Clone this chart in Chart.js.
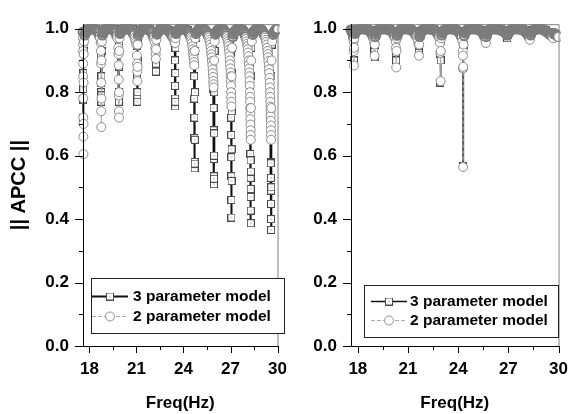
<!DOCTYPE html>
<html><head><meta charset="utf-8">
<script src="https://cdn.jsdelivr.net/npm/chart.js@4/dist/chart.umd.min.js"></script>
<style>
html,body{margin:0;padding:0;background:#fff;}
#wrap{position:relative;width:581px;height:414px;overflow:hidden;}
#c1{position:absolute;left:0;top:0;width:300px;height:414px;}
#c2{position:absolute;left:300px;top:0;width:281px;height:414px;}
</style></head><body>
<div id="wrap"><canvas id="c1" width="300" height="414"></canvas><canvas id="c2" width="281" height="414"></canvas></div>
<script>
// ---------------- data ----------------
const seriesLabels = ['3 parameter model', '2 parameter model'];
const xTitle = 'Freq(Hz)';
const yTitle = '|| APCC ||';
const xMajorTicks = [18, 21, 24, 27, 30];
const xMinorTicks = [19.5, 22.5, 25.5, 28.5];
const yMajorTicks = [0, 0.2, 0.4, 0.6, 0.8, 1.0];
const yMinorTicks = [0.1, 0.3, 0.5, 0.7, 0.9];

// left panel, 3 parameter model  [Freq, APCC]
const left3 = [[17.59,0.99],[17.595,0.93],[17.6,0.86],[17.603,0.81],[17.606,0.775],[17.61,0.72],[17.615,0.78],[17.62,0.86],[17.63,0.93],[17.66,0.97],[17.72,0.99],[17.85,0.998],[18.0,1.0],[18.2,1.0],[18.4,0.999],[18.55,0.995],[18.65,0.985],[18.71,0.97],
[18.73,0.91],[18.745,0.83],[18.75,0.80],[18.755,0.78],[18.76,0.77],[18.765,0.79],[18.77,0.85],[18.78,0.93],[18.80,0.975],[18.86,0.99],[19.0,0.998],[19.2,1.0],[19.4,1.0],[19.6,0.998],[19.75,0.99],[19.83,0.97],
[19.85,0.93],[19.86,0.8],[19.87,0.78],[19.875,0.77],[19.88,0.79],[19.89,0.88],[19.9,0.95],[19.93,0.98],[20.0,0.993],[20.2,0.999],[20.4,1.0],[20.6,1.0],[20.8,0.998],[20.92,0.99],[21.0,0.975],
[21.03,0.945],[21.045,0.85],[21.05,0.79],[21.055,0.78],[21.06,0.77],[21.065,0.80],[21.07,0.9],[21.09,0.96],[21.13,0.985],[21.25,0.996],[21.45,1.0],[21.65,1.0],[21.85,0.998],[22.0,0.993],[22.12,0.98],[22.19,0.96],
[22.215,0.92],[22.225,0.90],[22.235,0.88],[22.24,0.865],[22.245,0.89],[22.255,0.95],[22.28,0.98],[22.35,0.993],[22.5,0.999],[22.7,1.0],[22.9,1.0],[23.05,0.997],[23.2,0.99],[23.3,0.975],[23.38,0.96],
[23.44,0.95],[23.455,0.90],[23.46,0.82],[23.465,0.78],[23.47,0.755],[23.475,0.77],[23.48,0.86],[23.49,0.94],[23.52,0.975],[23.6,0.99],[23.75,0.998],[23.95,1.0],[24.15,1.0],[24.3,0.995],[24.42,0.985],[24.52,0.97],[24.6,0.955],
[24.67,0.92],[24.68,0.85],[24.69,0.78],[24.695,0.72],[24.7,0.655],[24.705,0.58],[24.71,0.56],[24.715,0.575],[24.72,0.65],[24.73,0.8],[24.75,0.93],[24.78,0.97],[24.85,0.99],[25.0,0.998],[25.2,1.0],[25.4,0.997],[25.55,0.988],[25.67,0.975],[25.78,0.96],[25.86,0.945],
[25.9,0.85],[25.91,0.81],[25.92,0.75],[25.925,0.68],[25.93,0.59],[25.935,0.535],[25.94,0.51],[25.945,0.527],[25.95,0.6],[25.955,0.67],[25.965,0.8],[25.98,0.93],[26.02,0.975],[26.1,0.99],[26.25,0.998],[26.45,1.0],[26.6,0.996],[26.72,0.985],[26.84,0.97],[26.95,0.955],
[27.02,0.925],[27.03,0.855],[27.04,0.787],[27.045,0.72],[27.05,0.665],[27.055,0.595],[27.058,0.535],[27.06,0.46],[27.062,0.405],[27.065,0.52],[27.07,0.62],[27.075,0.74],[27.085,0.86],[27.1,0.94],[27.14,0.975],[27.22,0.99],[27.4,0.998],[27.6,1.0],[27.78,0.995],[27.92,0.985],[28.05,0.97],[28.17,0.955],
[28.24,0.89],[28.25,0.82],[28.26,0.74],[28.265,0.67],[28.27,0.605],[28.275,0.585],[28.28,0.53],[28.283,0.495],[28.286,0.47],[28.29,0.427],[28.293,0.387],[28.297,0.55],[28.3,0.7],[28.31,0.85],[28.33,0.94],[28.37,0.975],[28.45,0.99],[28.6,0.998],[28.8,1.0],[28.98,0.995],[29.15,0.985],[29.3,0.97],[29.44,0.955],
[29.53,0.86],[29.54,0.8],[29.55,0.72],[29.56,0.66],[29.565,0.58],[29.57,0.576],[29.575,0.53],[29.58,0.49],[29.583,0.448],[29.586,0.40],[29.59,0.366],[29.595,0.5],[29.6,0.68],[29.61,0.85],[29.63,0.95],[29.7,0.98],[29.8,0.99],[29.9,0.995],[30.0,0.997]];

// left panel, 2 parameter model  [Freq, APCC]
const left2 = [[17.59,0.99],[17.592,0.97],[17.595,0.95],[17.597,0.93],[17.6,0.89],[17.603,0.85],[17.606,0.78],[17.61,0.72],[17.613,0.66],[17.616,0.605],[17.62,0.7],[17.625,0.83],[17.63,0.92],[17.65,0.96],[17.7,0.98],[17.75,0.987],[17.8,0.99],[17.85,0.993],[17.9,0.996],[17.95,0.998],[18.0,0.999],[18.05,1.0],[18.1,1.0],[18.15,1.0],[18.2,1.0],[18.25,1.0],[18.3,0.999],[18.35,0.998],[18.4,0.997],[18.45,0.995],[18.5,0.993],[18.55,0.99],[18.6,0.985],[18.64,0.978],[18.68,0.97],
[18.72,0.955],[18.735,0.93],[18.745,0.89],[18.75,0.83],[18.755,0.74],[18.76,0.69],[18.765,0.78],[18.775,0.9],[18.79,0.96],[18.83,0.98],[18.87,0.987],[18.9,0.99],[18.95,0.994],[19.0,0.996],[19.05,0.998],[19.1,0.999],[19.15,1.0],[19.2,1.0],[19.25,1.0],[19.3,1.0],[19.35,1.0],[19.4,1.0],[19.45,0.999],[19.5,0.998],[19.55,0.996],[19.6,0.994],[19.65,0.99],[19.7,0.985],[19.74,0.978],[19.78,0.97],
[19.84,0.94],[19.855,0.92],[19.865,0.885],[19.87,0.84],[19.875,0.79],[19.88,0.74],[19.885,0.72],[19.89,0.8],[19.9,0.93],[19.92,0.97],[19.96,0.985],[20.0,0.99],[20.05,0.993],[20.1,0.996],[20.15,0.998],[20.2,0.999],[20.25,1.0],[20.3,1.0],[20.35,1.0],[20.4,1.0],[20.45,1.0],[20.5,1.0],[20.55,0.999],[20.6,0.998],[20.65,0.996],[20.7,0.993],[20.75,0.99],[20.8,0.985],[20.85,0.98],[20.89,0.972],[20.93,0.965],[20.96,0.957],[20.99,0.95],
[21.03,0.915],[21.045,0.89],[21.055,0.865],[21.06,0.835],[21.07,0.88],[21.085,0.95],[21.12,0.98],[21.16,0.986],[21.2,0.99],[21.25,0.993],[21.3,0.996],[21.35,0.998],[21.4,0.999],[21.45,1.0],[21.5,1.0],[21.55,1.0],[21.6,1.0],[21.65,1.0],[21.7,1.0],[21.75,0.999],[21.8,0.998],[21.85,0.996],[21.9,0.994],[21.95,0.99],[22.0,0.987],[22.04,0.981],[22.08,0.975],[22.12,0.967],[22.15,0.96],
[22.2,0.94],[22.225,0.92],[22.238,0.905],[22.25,0.935],[22.27,0.965],[22.31,0.983],[22.35,0.988],[22.4,0.992],[22.45,0.995],[22.5,0.997],[22.55,0.999],[22.6,1.0],[22.65,1.0],[22.7,1.0],[22.75,1.0],[22.8,1.0],[22.85,1.0],[22.9,0.999],[22.95,0.998],[23.0,0.996],[23.05,0.994],[23.1,0.991],[23.15,0.988],[23.2,0.984],[23.25,0.98],[23.3,0.975],[23.34,0.97],[23.38,0.965],
[23.43,0.96],[23.465,0.955],[23.49,0.97],[23.53,0.985],[23.56,0.989],[23.6,0.993],[23.65,0.996],[23.7,0.998],[23.75,0.999],[23.8,1.0],[23.85,1.0],[23.9,1.0],[23.95,1.0],[24.0,1.0],[24.05,0.999],[24.1,0.998],[24.15,0.997],[24.2,0.995],[24.25,0.993],[24.3,0.99],[24.35,0.986],[24.4,0.982],[24.44,0.976],[24.48,0.97],[24.51,0.963],[24.54,0.955],[24.57,0.945],[24.59,0.935],[24.61,0.925],[24.63,0.915],[24.65,0.905],[24.67,0.895],[24.69,0.885],
[24.72,0.93],[24.75,0.97],[24.8,0.985],[24.85,0.99],[24.9,0.993],[24.95,0.996],[25.0,0.998],[25.05,0.999],[25.1,1.0],[25.15,1.0],[25.2,1.0],[25.25,1.0],[25.3,0.999],[25.35,0.997],[25.4,0.995],[25.45,0.992],[25.5,0.988],[25.54,0.983],[25.58,0.978],[25.62,0.972],[25.65,0.965],[25.68,0.958],[25.71,0.95],[25.74,0.94],[25.76,0.93],[25.78,0.92],[25.8,0.91],[25.82,0.898],[25.84,0.885],[25.86,0.872],[25.87,0.86],[25.89,0.848],[25.9,0.835],[25.915,0.825],[25.925,0.815],
[25.96,0.9],[25.99,0.96],[26.04,0.983],[26.08,0.988],[26.12,0.992],[26.17,0.995],[26.22,0.997],[26.27,0.999],[26.32,1.0],[26.37,1.0],[26.42,1.0],[26.47,0.999],[26.52,0.998],[26.57,0.996],[26.62,0.993],[26.66,0.989],[26.7,0.985],[26.74,0.979],[26.77,0.973],[26.8,0.967],[26.83,0.96],[26.86,0.953],[26.88,0.945],[26.9,0.935],[26.92,0.925],[26.94,0.913],[26.96,0.9],[26.975,0.888],[26.99,0.875],[27.0,0.862],[27.01,0.85],[27.02,0.835],[27.03,0.82],[27.04,0.8],[27.045,0.785],[27.05,0.77],[27.055,0.755],
[27.075,0.85],[27.1,0.94],[27.15,0.975],[27.18,0.983],[27.22,0.988],[27.27,0.992],[27.32,0.995],[27.37,0.997],[27.42,0.999],[27.47,1.0],[27.52,1.0],[27.57,1.0],[27.62,1.0],[27.67,0.999],[27.72,0.998],[27.77,0.996],[27.82,0.993],[27.86,0.989],[27.9,0.985],[27.94,0.98],[27.97,0.975],[28.0,0.968],[28.03,0.96],[28.06,0.953],[28.08,0.945],[28.1,0.935],[28.12,0.925],[28.14,0.913],[28.16,0.9],[28.175,0.888],[28.19,0.875],[28.2,0.862],[28.21,0.85],[28.22,0.835],[28.23,0.82],[28.24,0.8],[28.245,0.785],[28.255,0.77],[28.26,0.75],[28.265,0.732],[28.27,0.715],[28.275,0.698],[28.28,0.68],[28.284,0.665],[28.288,0.65],
[28.3,0.75],[28.32,0.9],[28.36,0.96],[28.42,0.982],[28.46,0.988],[28.5,0.992],[28.55,0.995],[28.6,0.997],[28.65,0.999],[28.7,1.0],[28.75,1.0],[28.8,1.0],[28.85,1.0],[28.9,0.999],[28.95,0.997],[29.0,0.995],[29.05,0.992],[29.1,0.988],[29.14,0.983],[29.18,0.978],[29.22,0.972],[29.25,0.965],[29.28,0.958],[29.31,0.95],[29.34,0.94],[29.36,0.93],[29.38,0.92],[29.4,0.91],[29.42,0.898],[29.44,0.885],[29.455,0.872],[29.47,0.86],[29.485,0.845],[29.5,0.83],[29.51,0.815],[29.52,0.8],[29.53,0.785],[29.54,0.77],[29.548,0.755],[29.555,0.74],[29.562,0.725],[29.57,0.71],[29.575,0.695],[29.58,0.68],[29.584,0.665],[29.588,0.65],
[29.6,0.75],[29.62,0.9],[29.66,0.96],[29.72,0.982],[29.76,0.988],[29.8,0.992],[29.85,0.995],[29.9,0.997],[29.95,0.998],[30.0,0.999]];

// right panel, 3 parameter model  [Freq, APCC]
const right3 = [[17.59,0.993],[17.65,0.99],[17.7,0.98],[17.74,0.96],[17.755,0.94],[17.765,0.90],[17.775,0.95],[17.8,0.98],[17.9,0.993],[18.1,0.998],[18.3,1.0],[18.5,0.999],[18.7,0.996],[18.85,0.99],[18.94,0.975],
[18.98,0.95],[18.995,0.93],[19.005,0.91],[19.015,0.95],[19.04,0.98],[19.12,0.99],[19.3,0.997],[19.5,1.0],[19.7,1.0],[19.9,0.998],[20.05,0.993],[20.17,0.985],[20.24,0.97],
[20.275,0.924],[20.29,0.90],[20.3,0.94],[20.33,0.975],[20.42,0.99],[20.6,0.997],[20.8,1.0],[21.0,1.0],[21.2,0.999],[21.38,0.994],[21.52,0.985],[21.6,0.97],
[21.64,0.924],[21.66,0.95],[21.7,0.978],[21.78,0.99],[21.95,0.997],[22.15,1.0],[22.35,1.0],[22.55,0.998],[22.72,0.993],[22.84,0.983],[22.9,0.965],
[22.93,0.92],[22.94,0.83],[22.95,0.9],[22.97,0.96],[23.02,0.985],[23.15,0.994],[23.35,0.999],[23.55,1.0],[23.75,0.999],[23.95,0.995],[24.1,0.987],[24.2,0.975],[24.26,0.95],
[24.28,0.875],[24.29,0.567],[24.3,0.875],[24.32,0.95],[24.37,0.98],[24.48,0.992],[24.65,0.998],[24.85,1.0],[25.05,1.0],[25.25,0.999],[25.42,0.995],[25.55,0.988],[25.62,0.98],[25.66,0.985],[25.75,0.993],[25.95,0.998],[26.15,1.0],[26.35,1.0],[26.55,0.999],[26.72,0.995],[26.85,0.988],
[26.93,0.97],[26.96,0.98],[27.05,0.992],[27.25,0.998],[27.45,1.0],[27.65,1.0],[27.85,0.999],[28.02,0.995],[28.15,0.99],[28.25,0.985],[28.32,0.99],[28.45,0.995],[28.65,0.999],[28.85,1.0],[29.05,0.999],[29.25,0.996],[29.45,0.99],[29.6,0.985],[29.7,0.98],[29.8,0.982],[29.9,0.978],[30.0,0.975]];

// right panel, 2 parameter model  [Freq, APCC]
const right2 = [[17.59,0.997],[17.63,0.995],[17.67,0.99],[17.7,0.985],[17.73,0.975],[17.745,0.96],[17.755,0.93],[17.765,0.884],[17.775,0.94],[17.79,0.97],[17.83,0.985],[17.86,0.99],[17.9,0.993],[17.95,0.995],[18.0,0.997],[18.05,0.999],[18.1,1.0],[18.15,1.0],[18.2,1.0],[18.25,1.0],[18.3,1.0],[18.35,1.0],[18.4,1.0],[18.45,1.0],[18.5,0.999],[18.55,0.998],[18.6,0.997],[18.65,0.996],[18.7,0.994],[18.75,0.991],[18.8,0.988],[18.84,0.984],[18.88,0.98],[18.91,0.975],[18.94,0.97],
[18.98,0.955],[19.0,0.915],[19.015,0.95],[19.04,0.975],[19.06,0.982],[19.09,0.988],[19.13,0.991],[19.17,0.994],[19.22,0.996],[19.27,0.998],[19.32,0.999],[19.37,1.0],[19.42,1.0],[19.47,1.0],[19.52,1.0],[19.57,1.0],[19.62,1.0],[19.67,1.0],[19.72,1.0],[19.77,0.999],[19.82,0.998],[19.87,0.997],[19.92,0.996],[19.97,0.994],[20.02,0.992],[20.07,0.989],[20.12,0.986],[20.16,0.982],[20.2,0.976],[20.23,0.97],
[20.265,0.96],[20.28,0.94],[20.295,0.878],[20.31,0.93],[20.33,0.97],[20.35,0.979],[20.38,0.985],[20.42,0.99],[20.46,0.993],[20.51,0.995],[20.56,0.997],[20.61,0.999],[20.66,1.0],[20.71,1.0],[20.76,1.0],[20.81,1.0],[20.86,1.0],[20.91,1.0],[20.96,1.0],[21.01,1.0],[21.06,0.999],[21.11,0.998],[21.16,0.997],[21.21,0.996],[21.26,0.994],[21.31,0.992],[21.36,0.99],[21.41,0.987],[21.45,0.983],[21.49,0.978],[21.53,0.973],[21.57,0.967],
[21.6,0.96],[21.635,0.95],[21.655,0.915],[21.67,0.95],[21.7,0.975],[21.72,0.981],[21.75,0.987],[21.79,0.991],[21.83,0.994],[21.88,0.996],[21.93,0.998],[21.98,0.999],[22.03,1.0],[22.08,1.0],[22.13,1.0],[22.18,1.0],[22.23,1.0],[22.28,1.0],[22.33,1.0],[22.38,1.0],[22.43,0.999],[22.48,0.998],[22.53,0.997],[22.58,0.996],[22.63,0.994],[22.68,0.992],[22.73,0.99],[22.77,0.986],[22.81,0.982],[22.84,0.977],[22.87,0.972],
[22.91,0.955],[22.93,0.924],[22.945,0.835],[22.96,0.93],[22.99,0.97],[23.02,0.98],[23.05,0.987],[23.09,0.991],[23.14,0.994],[23.19,0.996],[23.24,0.998],[23.29,0.999],[23.34,1.0],[23.39,1.0],[23.44,1.0],[23.49,1.0],[23.54,1.0],[23.59,1.0],[23.64,1.0],[23.69,1.0],[23.74,0.999],[23.79,0.998],[23.84,0.997],[23.89,0.996],[23.94,0.994],[23.99,0.992],[24.04,0.99],[24.09,0.987],[24.13,0.983],[24.17,0.979],[24.2,0.975],
[24.25,0.96],[24.27,0.93],[24.28,0.915],[24.288,0.875],[24.293,0.564],[24.3,0.88],[24.32,0.95],[24.36,0.978],[24.4,0.986],[24.43,0.99],[24.48,0.993],[24.53,0.996],[24.58,0.998],[24.63,0.999],[24.68,1.0],[24.73,1.0],[24.78,1.0],[24.83,1.0],[24.88,1.0],[24.93,1.0],[24.98,1.0],[25.03,1.0],[25.08,1.0],[25.13,0.999],[25.18,0.998],[25.23,0.997],[25.28,0.996],[25.33,0.994],[25.38,0.992],[25.43,0.99],[25.48,0.987],[25.52,0.983],[25.55,0.979],[25.58,0.975],
[25.63,0.965],[25.655,0.955],[25.68,0.975],[25.7,0.982],[25.72,0.987],[25.76,0.991],[25.8,0.994],[25.85,0.996],[25.9,0.998],[25.95,0.999],[26.0,1.0],[26.05,1.0],[26.1,1.0],[26.15,1.0],[26.2,1.0],[26.25,1.0],[26.3,1.0],[26.35,1.0],[26.4,0.999],[26.45,0.998],[26.5,0.997],[26.55,0.996],[26.6,0.995],[26.65,0.994],[26.7,0.992],[26.75,0.99],[26.8,0.988],[26.84,0.986],[26.88,0.983],[26.91,0.981],
[26.94,0.98],[26.97,0.983],[27.0,0.986],[27.04,0.99],[27.08,0.993],[27.13,0.995],[27.18,0.997],[27.23,0.999],[27.28,1.0],[27.33,1.0],[27.38,1.0],[27.43,1.0],[27.48,1.0],[27.53,1.0],[27.58,1.0],[27.63,1.0],[27.68,0.999],[27.73,0.999],[27.78,0.998],[27.83,0.997],[27.88,0.996],[27.93,0.995],[27.98,0.993],[28.03,0.991],[28.08,0.988],[28.13,0.985],[28.17,0.982],[28.21,0.978],[28.24,0.975],
[28.29,0.965],[28.33,0.98],[28.36,0.986],[28.4,0.99],[28.45,0.993],[28.5,0.995],[28.55,0.997],[28.6,0.998],[28.65,0.999],[28.7,1.0],[28.75,1.0],[28.8,1.0],[28.85,1.0],[28.9,1.0],[28.95,1.0],[29.0,0.999],[29.05,0.998],[29.1,0.997],[29.15,0.996],[29.2,0.994],[29.25,0.992],[29.3,0.99],[29.35,0.988],[29.4,0.986],[29.45,0.984],[29.5,0.982],[29.55,0.98],[29.6,0.978],[29.64,0.974],[29.68,0.97],[29.72,0.985],[29.76,0.984],[29.8,0.983],[29.85,0.981],[29.9,0.978],[29.95,0.976],[30.0,0.974]];

// ---------------- drawing ----------------
const FONT = '"Liberation Sans", Arial, Helvetica, sans-serif';

function makeSquare() {
  const c = document.createElement('canvas');
  c.width = 8; c.height = 8;
  const g = c.getContext('2d');
  g.fillStyle = '#fff'; g.fillRect(0, 0, 8, 8);
  g.strokeStyle = '#4a4a4a'; g.lineWidth = 1; g.strokeRect(0.5, 0.5, 7, 7);
  g.fillStyle = '#666'; g.fillRect(3.5, 3.5, 1, 1);
  return c;
}
const squareImg = makeSquare();

const framePlugin = {
  id: 'frame',
  afterDraw(chart) {
    const {ctx, chartArea: a, scales: {x, y}} = chart;
    ctx.save();
    ctx.lineWidth = 1;
    ctx.strokeStyle = '#808080';
    ctx.beginPath();
    ctx.moveTo(a.left, a.top + 0.5); ctx.lineTo(a.right + 0.5, a.top + 0.5); ctx.lineTo(a.right + 0.5, a.bottom);
    ctx.stroke();
    ctx.strokeStyle = '#000';
    ctx.beginPath();
    ctx.moveTo(a.left + 0.5, a.top); ctx.lineTo(a.left + 0.5, a.bottom + 0.5); ctx.lineTo(a.right + 1, a.bottom + 0.5);
    yMajorTicks.forEach(v => { const p = Math.round(y.getPixelForValue(v)) + 0.5; ctx.moveTo(a.left - 8, p); ctx.lineTo(a.left, p); });
    yMinorTicks.forEach(v => { const p = Math.round(y.getPixelForValue(v)) + 0.5; ctx.moveTo(a.left - 4, p); ctx.lineTo(a.left, p); });
    xMajorTicks.forEach(v => { const p = Math.round(x.getPixelForValue(v)) + 0.5; ctx.moveTo(p, a.bottom); ctx.lineTo(p, a.bottom + 7); });
    xMinorTicks.forEach(v => { const p = Math.round(x.getPixelForValue(v)) + 0.5; ctx.moveTo(p, a.bottom); ctx.lineTo(p, a.bottom + 4); });
    ctx.stroke();
    ctx.restore();
  }
};

function legendPlugin(L) {
  return {
    id: 'boxLegend',
    afterDraw(chart) {
      const ctx = chart.ctx;
      const ds = chart.data.datasets;
      ctx.save();
      ctx.fillStyle = '#fff';
      ctx.fillRect(L.x, L.y, L.w, L.h);
      ctx.strokeStyle = '#222'; ctx.lineWidth = 1;
      ctx.strokeRect(L.x + 0.5, L.y + 0.5, L.w, L.h);
      L.rows.forEach((ry, i) => {
        const d = ds[i];
        ctx.beginPath();
        ctx.setLineDash(d.borderDash || []);
        ctx.strokeStyle = d.borderColor; ctx.lineWidth = d.borderWidth;
        ctx.moveTo(L.lx0, ry + 0.5); ctx.lineTo(L.lx1, ry + 0.5); ctx.stroke();
        ctx.setLineDash([]);
        const mx = (L.lx0 + L.lx1) / 2;
        if (d.pointStyle === squareImg) {
          ctx.drawImage(squareImg, Math.round(mx) - 4, ry - 3.5);
        } else {
          ctx.beginPath(); ctx.arc(mx, ry + 0.5, 4.5, 0, Math.PI * 2);
          ctx.fillStyle = '#fff'; ctx.fill();
          ctx.strokeStyle = '#909090'; ctx.lineWidth = 1; ctx.stroke();
        }
        ctx.fillStyle = '#000';
        ctx.font = 'bold 15.5px ' + FONT;
        ctx.textBaseline = 'middle'; ctx.textAlign = 'left';
        ctx.fillText(d.label, L.tx, ry + 1);
      });
      ctx.restore();
    }
  };
}

function toPts(arr) { return arr.map(p => ({x: p[0], y: p[1]})); }

function makeChart(id, d3, d2, cfg) {
  return new Chart(document.getElementById(id), {
    type: 'scatter',
    data: {
      datasets: [
        { label: seriesLabels[0], data: toPts(d3), order: 1, showLine: true, tension: 0,
          borderColor: '#111', borderWidth: cfg.lw3, pointStyle: squareImg, pointRadius: 4, pointHoverRadius: 4,
          clip: {left: 8, top: 0, right: 2, bottom: 0} },
        { label: seriesLabels[1], data: toPts(d2), order: 0, showLine: true, tension: 0,
          borderColor: '#a8a8a8', borderWidth: 1, borderDash: [4, 2],
          pointStyle: 'circle', pointRadius: 4.5, pointHoverRadius: 4.5,
          pointBackgroundColor: '#fff',
          pointBorderColor: c => (c.raw && c.raw.y >= 0.975) ? '#7c7c7c' : '#8c8c8c',
          pointBorderWidth: c => (c.raw && c.raw.y >= 0.975) ? 2 : 1,
          clip: {left: 8, top: 0, right: 2, bottom: 0} }
      ]
    },
    options: {
      responsive: false, animation: false, devicePixelRatio: 1,
      events: [],
      layout: { autoPadding: false, padding: { top: 12, right: cfg.padRight, bottom: 0, left: 0 } },
      plugins: { legend: { display: false }, tooltip: { enabled: false } },
      scales: {
        x: {
          type: 'linear', min: 17.59, max: 30,
          afterBuildTicks: s => { s.ticks = xMajorTicks.map(v => ({value: v})); },
          afterFit: s => { s.height = 68; },
          grid: { display: false, drawTicks: false }, border: { display: false },
          ticks: { color: '#000', padding: 13, maxRotation: 0, autoSkip: false,
                   font: { family: FONT, size: 17, weight: 'bold' }, callback: v => String(v) },
          title: { display: true, text: xTitle, color: '#000', padding: { top: 0, bottom: 0 },
                   font: { family: FONT, size: 17, weight: 'bold' } }
        },
        y: {
          type: 'linear', min: 0, max: 1.0143,
          afterBuildTicks: s => { s.ticks = yMajorTicks.map(v => ({value: v})); },
          afterFit: s => { s.width = cfg.yWidth; },
          grid: { display: false, drawTicks: false }, border: { display: false },
          ticks: { color: '#000', padding: 14, autoSkip: false,
                   font: { family: FONT, size: 17, weight: 'bold' }, callback: v => v.toFixed(1) },
          title: { display: cfg.yTitle, text: yTitle, color: '#000', padding: { top: 7, bottom: 0 },
                   font: { family: FONT, size: 20, weight: 'bold' } }
        }
      }
    },
    plugins: [framePlugin, legendPlugin(cfg.legend)]
  });
}

makeChart('c1', left3, left2, {
  lw3: 2, padRight: 7, yWidth: 83, yTitle: true,
  legend: { x: 91, y: 278, w: 193, h: 55, rows: [296, 316], lx0: 92, lx1: 128, tx: 133 }
});
makeChart('c2', right3, right2, {
  lw3: 1.5, padRight: 19, yWidth: 51, yTitle: false,
  legend: { x: 64, y: 285, w: 194, h: 52, rows: [301, 320], lx0: 71, lx1: 107, tx: 110 }
});
</script>
</body></html>
